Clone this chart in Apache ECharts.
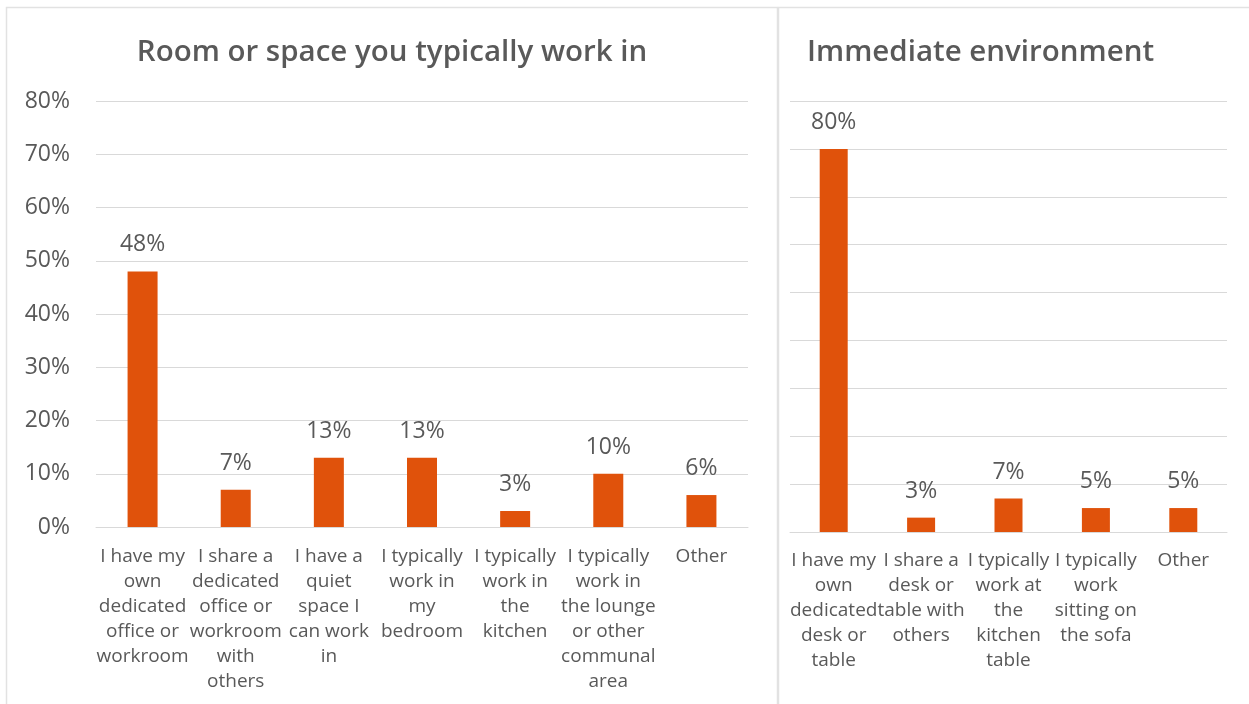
<!DOCTYPE html>
<html>
<head>
<meta charset="utf-8">
<title>Home working environment</title>
<script src="https://cdn.jsdelivr.net/npm/echarts@6/dist/echarts.min.js"></script>
<style>
  html, body { margin: 0; padding: 0; background: #ffffff; }
  #chart { width: 1249px; height: 704px; }
</style>
</head>
<body>
<div id="chart"></div>
<script>
// Room or space people typically work in (share of respondents, %)
const roomCategories = [
  'I have my\nown\ndedicated\noffice or\nworkroom',
  'I share a\ndedicated\noffice or\nworkroom\nwith\nothers',
  'I have a\nquiet\nspace I\ncan work\nin',
  'I typically\nwork in\nmy\nbedroom',
  'I typically\nwork in\nthe\nkitchen',
  'I typically\nwork in\nthe lounge\nor other\ncommunal\narea',
  'Other'
];
const roomValues = [48, 7, 13, 13, 3, 10, 6];

// Immediate environment (share of respondents, %)
const envCategories = [
  'I have my\nown\ndedicated\ndesk or\ntable',
  'I share a\ndesk or\ntable with\nothers',
  'I typically\nwork at\nthe\nkitchen\ntable',
  'I typically\nwork\nsitting on\nthe sofa',
  'Other'
];
const envValues = [80, 3, 7, 5, 5];

const roomTitle = 'Room or space you typically work in';
const envTitle = 'Immediate environment';

const FONT = '"Open Sans", "Noto Sans", sans-serif';
const TEXT = '#595959';
const GRID_LINE = '#d9d9d9';
const BAR = '#E0520B';

const chart = echarts.init(document.getElementById('chart'), null, { renderer: 'canvas' });

function categoryAxis(gridIndex, data, margin) {
  return {
    type: 'category',
    gridIndex: gridIndex,
    data: data,
    axisTick: { show: false },
    axisLine: { show: true, lineStyle: { color: GRID_LINE, width: 1 } },
    axisLabel: {
      interval: 0,
      margin: margin,
      color: TEXT,
      fontFamily: FONT,
      fontSize: 19,
      lineHeight: 25,
      align: 'center',
      verticalAlign: 'top'
    }
  };
}

function valueAxis(gridIndex, max, showLabels) {
  return {
    type: 'value',
    gridIndex: gridIndex,
    min: 0,
    max: max,
    interval: 10,
    axisLine: { show: false },
    axisTick: { show: false },
    splitLine: { show: true, lineStyle: { color: GRID_LINE, width: 1 } },
    axisLabel: {
      show: showLabels,
      margin: 26,
      color: TEXT,
      fontFamily: FONT,
      fontSize: 23,
      formatter: '{value}%'
    }
  };
}

function barSeries(axisIndex, values, width) {
  return {
    type: 'bar',
    xAxisIndex: axisIndex,
    yAxisIndex: axisIndex,
    data: values,
    barWidth: width,
    itemStyle: { color: BAR },
    label: {
      show: true,
      position: 'top',
      distance: 15,
      color: TEXT,
      fontFamily: FONT,
      fontSize: 23,
      formatter: '{c}%'
    }
  };
}

chart.setOption({
  animation: false,
  backgroundColor: '#ffffff',
  title: [
    {
      text: roomTitle,
      left: 387,
      textAlign: 'center',
      top: 33,
      textStyle: { color: TEXT, fontFamily: FONT, fontSize: 29.5, fontWeight: 600 }
    },
    {
      text: envTitle,
      left: 802,
      top: 33,
      textStyle: { color: TEXT, fontFamily: FONT, fontSize: 29.5, fontWeight: 600 }
    }
  ],
  graphic: [
    {
      type: 'rect',
      silent: true,
      shape: { x: 6.5, y: 7.5, width: 771, height: 720 },
      style: { fill: null, stroke: '#e2e2e2', lineWidth: 1.5 }
    },
    {
      type: 'rect',
      silent: true,
      shape: { x: 778.5, y: 7.5, width: 480, height: 720 },
      style: { fill: null, stroke: '#e2e2e2', lineWidth: 1.5 }
    }
  ],
  grid: [
    { left: 96, right: 1249 - 748, top: 101, height: 426 },
    { left: 790, right: 1249 - 1227, top: 101, height: 431 }
  ],
  xAxis: [
    categoryAxis(0, roomCategories, 17),
    categoryAxis(1, envCategories, 16)
  ],
  yAxis: [
    valueAxis(0, 80, true),
    valueAxis(1, 90, false)
  ],
  series: [
    barSeries(0, roomValues, 30),
    barSeries(1, envValues, 28)
  ]
});
</script>
</body>
</html>
